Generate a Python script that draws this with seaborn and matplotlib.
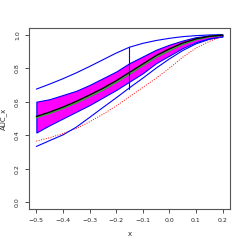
import numpy as np
import pandas as pd
import seaborn as sns
import matplotlib
matplotlib.use("Agg")
import matplotlib.pyplot as plt

# values
x = [-0.5, -0.45, -0.4, -0.35, -0.3, -0.25, -0.2, -0.15, -0.1, -0.05, 0.0, 0.05, 0.1, 0.15, 0.2]
upper_blue = [0.675, 0.705, 0.737, 0.772, 0.81, 0.85, 0.89, 0.925, 0.948, 0.965, 0.978, 0.988, 0.994, 0.998, 1.0]
band_hi = [0.60, 0.615, 0.64, 0.665, 0.70, 0.74, 0.78, 0.83, 0.87, 0.91, 0.94, 0.965, 0.985, 0.995, 1.0]
band_lo = [0.416, 0.46, 0.50, 0.54, 0.58, 0.625, 0.67, 0.72, 0.77, 0.83, 0.875, 0.92, 0.955, 0.978, 0.99]
center = [0.512, 0.538, 0.568, 0.602, 0.64, 0.68, 0.725, 0.775, 0.825, 0.875, 0.915, 0.95, 0.975, 0.99, 0.997]
green = [0.505, 0.53, 0.56, 0.593, 0.63, 0.67, 0.715, 0.765, 0.815, 0.865, 0.905, 0.942, 0.97, 0.987, 0.996]
lower_blue = [0.333, 0.368, 0.402, 0.448, 0.506, 0.565, 0.623, 0.683, 0.74, 0.80, 0.855, 0.905, 0.945, 0.972, 0.986]
red = [0.365, 0.385, 0.41, 0.44, 0.48, 0.525, 0.575, 0.63, 0.685, 0.74, 0.80, 0.865, 0.92, 0.96, 0.99]
vline_x = -0.15
vline_y = [0.675, 0.925]

xticks = [-0.5, -0.4, -0.3, -0.2, -0.1, 0.0, 0.1, 0.2]
yticks = [0.0, 0.2, 0.4, 0.6, 0.8, 1.0]

df = pd.DataFrame({"x": x, "upper": upper_blue, "center": center, "green": green,
                   "lower": lower_blue, "red": red})

sns.set_style("ticks")
fig = plt.figure(figsize=(2.45, 2.45), dpi=100)
ax = fig.add_axes([0.118, 0.147, 0.821, 0.739])

ax.fill_between(x, band_lo, band_hi, facecolor="magenta", edgecolor="blue", linewidth=0.8)
sns.lineplot(data=df, x="x", y="upper", color="blue", linewidth=0.8, ax=ax)
sns.lineplot(data=df, x="x", y="lower", color="blue", linewidth=0.8, ax=ax)
sns.lineplot(data=df, x="x", y="red", color="red", linewidth=0.7, linestyle=(0, (1, 1.5)), ax=ax)
sns.lineplot(data=df, x="x", y="green", color="#22bb22", linewidth=1.0, ax=ax)
sns.lineplot(data=df, x="x", y="center", color="black", linewidth=1.0, ax=ax)
ax.plot([vline_x, vline_x], vline_y, color="blue", linewidth=0.8)

ax.set_xlim(-0.528, 0.228)
ax.set_ylim(-0.04, 1.04)
ax.set_xticks(xticks)
ax.set_xticklabels([f"{t:.1f}".replace("-", "\u2212") for t in xticks])
ax.set_yticks(yticks)
ax.set_yticklabels([f"{t:.1f}" for t in yticks], rotation=90, va="center")
ax.tick_params(labelsize=4.5, length=3, width=0.6, color="#333333", pad=3.5)
for s in ax.spines.values():
    s.set_color("#555555")
    s.set_linewidth(0.8)
ax.set_xlabel("x", fontsize=5, labelpad=6)
ax.set_ylabel("AUC_x", fontsize=5, labelpad=6)

fig.savefig("out.png", dpi=100)
